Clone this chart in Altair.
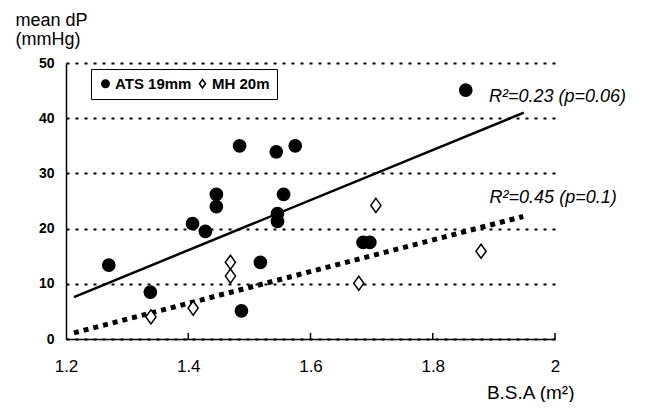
import altair as alt
import pandas as pd

# ---- data ----
ats_bsa = [1.270, 1.338, 1.407, 1.428, 1.446, 1.446, 1.484, 1.487, 1.518,
           1.544, 1.575, 1.556, 1.546, 1.546, 1.854, 1.686, 1.697]
ats_dp = [13.4, 8.5, 20.9, 19.5, 26.2, 24.0, 35.0, 5.1, 13.9,
          33.9, 35.0, 26.2, 22.7, 21.3, 45.1, 17.5, 17.5]
mh_bsa = [1.339, 1.408, 1.469, 1.469, 1.679, 1.707, 1.879]
mh_dp = [4.0, 5.6, 13.9, 11.4, 10.1, 24.2, 15.9]

ats_fit_bsa = [1.213, 1.949]
ats_fit_dp = [7.6, 41.0]
mh_fit_bsa = [1.213, 1.948]
mh_fit_dp = [1.1, 22.2]

series_names = ["ATS 19mm", "MH 20m"]
x_ticks = [1.2, 1.4, 1.6, 1.8, 2.0]
y_ticks = [0, 10, 20, 30, 40, 50]
inner_ticks = [1.4, 1.6, 1.8, 2.0]

ann_labels = ["R\u00b2=0.23 (p=0.06)", "R\u00b2=0.45 (p=0.1)"]
ann_bsa = [1.892, 1.893]
ann_dp = [43.0, 24.7]

SANS = "Liberation Sans, Arial, Helvetica"

points = pd.DataFrame({
    "bsa": ats_bsa + mh_bsa,
    "dp": ats_dp + mh_dp,
    "series": [series_names[0]] * len(ats_bsa) + [series_names[1]] * len(mh_bsa),
})
ats_fit = pd.DataFrame({"bsa": ats_fit_bsa, "dp": ats_fit_dp})
mh_fit = pd.DataFrame({"bsa": mh_fit_bsa, "dp": mh_fit_dp})
ticks_df = pd.DataFrame({"bsa": inner_ticks, "y0": [0] * len(inner_ticks), "y1": [1.1] * len(inner_ticks)})
ann = pd.DataFrame({"bsa": ann_bsa, "dp": ann_dp, "label": ann_labels})

x_scale = alt.Scale(domain=[1.2, 2.0], nice=False, zero=False)
y_scale = alt.Scale(domain=[0, 50], nice=False)

x_axis = alt.Axis(
    values=x_ticks, format="~g", grid=False, ticks=False,
    domainColor="black", domainWidth=1.5, labelFlush=False,
    labelFont=SANS, labelFontSize=17, labelColor="black", labelPadding=19,
    title="B.S.A (m\u00b2)", titleFont=SANS, titleFontSize=19, titleFontWeight="normal",
    titleColor="black", titleAlign="right", titleBaseline="alphabetic",
    titleX=508, titleY=59, titleAnchor="end",
)
y_axis = alt.Axis(
    values=y_ticks, grid=True, gridDash=[3, 6], gridColor="black", gridWidth=2.2,
    ticks=False, domainColor="black", domainWidth=1.5,
    labelFont=SANS, labelFontSize=14, labelFontWeight="bold", labelColor="black",
    labelPadding=12,
    title=["mean dP", "(mmHg)"], titleAngle=0, titleAlign="left",
    titleBaseline="alphabetic", titleX=-51, titleY=-38,
    titleFont=SANS, titleFontSize=18, titleFontWeight="normal",
    titleColor="black", titleLineHeight=19,
)

X = alt.X("bsa:Q", scale=x_scale, axis=x_axis)
Y = alt.Y("dp:Q", scale=y_scale, axis=y_axis)

diamond = "M0,-1.15L0.83,0L0,1.15L-0.83,0Z"

legend = alt.Legend(
    title=None, orient="none", legendX=25, legendY=6, direction="horizontal",
    strokeColor="black", padding=7, fillColor="white",
    labelFont=SANS, labelFontSize=15, labelFontWeight="bold", labelColor="black",
    symbolSize=55, symbolStrokeColor="black", symbolStrokeWidth=1.5,
    labelOffset=2, columnPadding=3,
)

pts = alt.Chart(points).mark_point(filled=True, strokeWidth=1.5, opacity=1, size=150).encode(
    x=X, y=Y,
    shape=alt.Shape("series:N", scale=alt.Scale(domain=series_names, range=["circle", diamond]),
                    legend=legend),
    fill=alt.Fill("series:N", scale=alt.Scale(domain=series_names, range=["black", "white"]),
                  legend=legend),
    stroke=alt.Stroke("series:N", scale=alt.Scale(domain=series_names, range=["black", "black"]),
                      legend=legend),
)

ticks = alt.Chart(ticks_df).mark_rule(color="black", strokeWidth=1.5).encode(
    x=X, y=alt.Y("y0:Q", scale=y_scale, axis=y_axis), y2="y1:Q"
)

line_ats = alt.Chart(ats_fit).mark_line(color="black", strokeWidth=2.5).encode(x=X, y=Y)
line_mh = alt.Chart(mh_fit).mark_line(color="black", strokeWidth=5, strokeDash=[5, 5], strokeCap="butt").encode(x=X, y=Y)

texts = alt.Chart(ann).mark_text(
    align="left", baseline="alphabetic", font=SANS, fontSize=18, fontStyle="italic", color="black"
).encode(x=X, y=Y, text="label:N")

chart = alt.layer(ticks, line_ats, line_mh, pts, texts).properties(
    width=489, height=276,
    autosize=alt.AutoSizeParams(type="none"),
    padding={"left": 58, "top": 55, "right": 83, "bottom": 63},
    background="white",
).configure_view(stroke=None)

chart.save("out.html", embed_options={"renderer": "svg", "actions": False})
